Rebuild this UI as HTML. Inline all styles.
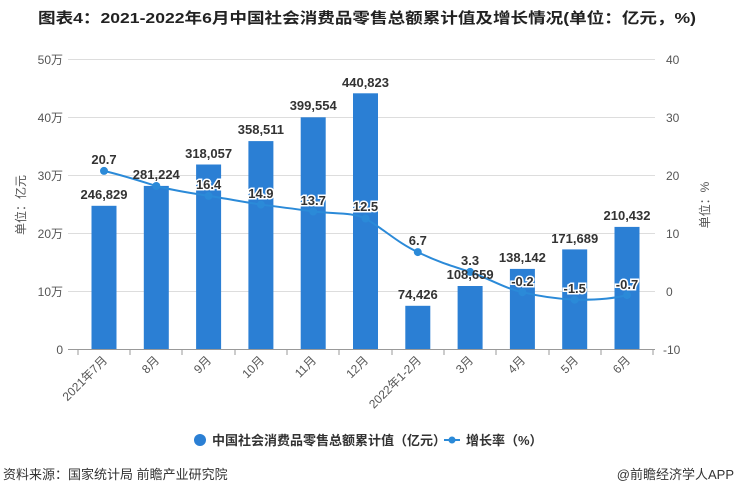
<!DOCTYPE html>
<html><head><meta charset="utf-8"><style>
body{margin:0;background:#fff;}
svg{display:block;font-family:"Liberation Sans","Noto Sans CJK SC",sans-serif;}
.bl{font-size:13px;font-weight:bold;fill:#333;text-anchor:middle;}
.ll{font-size:13px;font-weight:bold;fill:#333;text-anchor:middle;stroke:#fff;stroke-width:3px;paint-order:stroke;}
.ax{font-size:12px;fill:#555;}
</style></head><body>
<svg width="737" height="488" viewBox="0 0 737 488">
<text x="367" y="23" text-anchor="middle" font-size="15" font-weight="bold" fill="#222" textLength="658" lengthAdjust="spacingAndGlyphs">图表4：2021-2022年6月中国社会消费品零售总额累计值及增长情况(单位：亿元，%)</text>
<g stroke="#ddd" stroke-width="1">
<line x1="68" y1="59.5" x2="655" y2="59.5"/><line x1="68" y1="117.5" x2="655" y2="117.5"/>
<line x1="68" y1="175.5" x2="655" y2="175.5"/><line x1="68" y1="233.5" x2="655" y2="233.5"/>
<line x1="68" y1="291.5" x2="655" y2="291.5"/>
</g>
<line x1="68" y1="349.5" x2="655" y2="349.5" stroke="#999"/>
<g stroke="#999">
<line x1="78" y1="349" x2="78" y2="355"/><line x1="130" y1="349" x2="130" y2="355"/><line x1="182" y1="349" x2="182" y2="355"/><line x1="235" y1="349" x2="235" y2="355"/><line x1="287" y1="349" x2="287" y2="355"/><line x1="339" y1="349" x2="339" y2="355"/><line x1="392" y1="349" x2="392" y2="355"/><line x1="444" y1="349" x2="444" y2="355"/><line x1="496" y1="349" x2="496" y2="355"/><line x1="549" y1="349" x2="549" y2="355"/><line x1="601" y1="349" x2="601" y2="355"/><line x1="653" y1="349" x2="653" y2="355"/>
</g>
<g class="ax" text-anchor="end">
<text x="63" y="64">50万</text><text x="63" y="122">40万</text><text x="63" y="180">30万</text><text x="63" y="238">20万</text><text x="63" y="296">10万</text><text x="63" y="354">0</text>
</g>
<g class="ax" text-anchor="start">
<text x="666" y="64">40</text><text x="666" y="122">30</text><text x="666" y="180">20</text><text x="666" y="238">10</text><text x="666" y="296">0</text><text x="663" y="354">-10</text>
</g>
<text class="ax" transform="translate(25,205) rotate(-90)" text-anchor="middle">单位：亿元</text>
<text class="ax" transform="translate(709,205) rotate(-90)" text-anchor="middle">单位：%</text>
<g fill="#2b7fd4">
<rect x="91.5" y="205.8" width="25" height="143.2"/><rect x="143.8" y="185.9" width="25" height="163.1"/><rect x="196.1" y="164.5" width="25" height="184.5"/><rect x="248.4" y="141.1" width="25" height="207.9"/><rect x="300.7" y="117.3" width="25" height="231.7"/><rect x="353" y="93.3" width="25" height="255.7"/><rect x="405.3" y="305.8" width="25" height="43.2"/><rect x="457.6" y="286" width="25" height="63"/><rect x="509.9" y="268.9" width="25" height="80.1"/><rect x="562.2" y="249.4" width="25" height="99.6"/><rect x="614.5" y="226.9" width="25" height="122.1"/>
</g>
<path d="M104,170.9 C125,176 140,181 156.3,186 C175,191 192,193 208.6,195.9 C228,199 244,202 260.9,204.6 C280,207 296,209 313.2,211.5 C333,214 352,212 365.5,218.5 C385,230 398,243 417.8,252.1 C438,262 452,266 470.1,271.9 C490,279 504,288 522.4,292.2 C542,297 560,299 574.7,299.7 C595,300 612,299 627,295.1" fill="none" stroke="#2b8ad8" stroke-width="2"/>
<g fill="#2b8ad8">
<circle cx="104" cy="170.9" r="4"/><circle cx="156.3" cy="186" r="4"/><circle cx="208.6" cy="195.9" r="4"/><circle cx="260.9" cy="204.6" r="4"/><circle cx="313.2" cy="211.5" r="4"/><circle cx="365.5" cy="218.5" r="4"/><circle cx="417.8" cy="252.1" r="4"/><circle cx="470.1" cy="271.9" r="4"/><circle cx="522.4" cy="292.2" r="4"/><circle cx="574.7" cy="299.7" r="4"/><circle cx="627" cy="295.1" r="4"/>
</g>
<g class="bl">
<text x="104" y="199">246,829</text><text x="156.3" y="179">281,224</text><text x="208.6" y="158">318,057</text><text x="260.9" y="134">358,511</text><text x="313.2" y="110">399,554</text><text x="365.5" y="87">440,823</text><text x="417.8" y="299">74,426</text><text x="470.1" y="279">108,659</text><text x="522.4" y="262">138,142</text><text x="574.7" y="243">171,689</text><text x="627" y="220">210,432</text>
</g>
<g class="ll">
<text x="104" y="164">20.7</text><text x="208.6" y="189">16.4</text><text x="260.9" y="198">14.9</text><text x="313.2" y="205">13.7</text><text x="365.5" y="211">12.5</text><text x="417.8" y="245">6.7</text><text x="470.1" y="265">3.3</text><text x="522.4" y="286">-0.2</text><text x="574.7" y="293">-1.5</text><text x="627" y="289">-0.7</text>
</g>
<g class="ax" text-anchor="end">
<text transform="translate(108,361) rotate(-45)">2021年7月</text>
<text transform="translate(160,361) rotate(-45)">8月</text>
<text transform="translate(212,361) rotate(-45)">9月</text>
<text transform="translate(265,361) rotate(-45)">10月</text>
<text transform="translate(317,361) rotate(-45)">11月</text>
<text transform="translate(369,361) rotate(-45)">12月</text>
<text transform="translate(422,361) rotate(-45)">2022年1-2月</text>
<text transform="translate(474,361) rotate(-45)">3月</text>
<text transform="translate(526,361) rotate(-45)">4月</text>
<text transform="translate(579,361) rotate(-45)">5月</text>
<text transform="translate(631,361) rotate(-45)">6月</text>
</g>
<circle cx="200" cy="440" r="6" fill="#2b7fd4"/>
<text x="212" y="445" font-size="13" font-weight="bold" fill="#333">中国社会消费品零售总额累计值（亿元）</text>
<line x1="444" y1="440" x2="460" y2="440" stroke="#2b8ad8" stroke-width="2"/>
<circle cx="452" cy="440" r="3.5" fill="#2b8ad8"/>
<text x="466" y="445" font-size="13" font-weight="bold" fill="#333">增长率（%）</text>
<text x="3" y="479" font-size="13" fill="#333">资料来源：国家统计局 前瞻产业研究院</text>
<text x="734" y="479" font-size="13" fill="#333" text-anchor="end">@前瞻经济学人APP</text>
</svg>
</body></html>
